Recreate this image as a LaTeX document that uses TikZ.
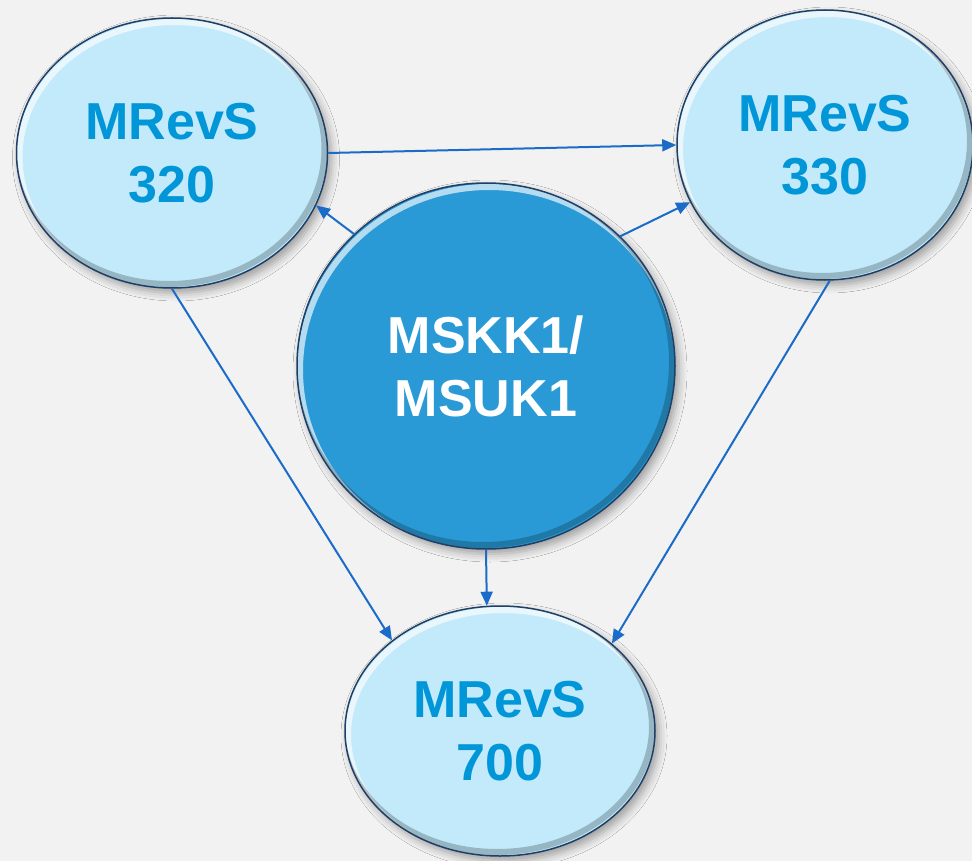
\documentclass[tikz,border=0pt]{standalone}
\usepackage{fontspec}
\setmainfont{Liberation Sans}
\usetikzlibrary{arrows.meta,shapes.geometric,shadows.blur}

\definecolor{bgcol}{HTML}{F2F2F2}
\definecolor{lightfill}{HTML}{C2EAFA}
\definecolor{corefill}{HTML}{2A9AD6}
\definecolor{rimcol}{HTML}{1F3F66}
\definecolor{labelblue}{HTML}{0096D8}
\definecolor{linkcol}{HTML}{1A6CC8}

\begin{document}
\begin{tikzpicture}[x=1pt,y=-1pt,
  bubble/.style n args={3}{
    ellipse, draw=rimcol, line width=1.5pt, fill=#3,
    minimum width=#1, minimum height=#2, inner sep=0pt,
    align=center, font=\fontsize{52}{63}\selectfont\bfseries,
    blur shadow={shadow xshift=4pt, shadow yshift=-5pt,
      shadow blur radius=8pt, shadow opacity=35},
    path picture={
      % light rim along the upper left edge
      \draw[white, opacity=.65, line width=6pt]
        ([xshift=3pt,yshift=-4pt]path picture bounding box.center)
        ellipse [x radius=#1/2, y radius=#2/2];
      % darker rim along the lower right edge
      \draw[black, opacity=.22, line width=6pt]
        ([xshift=-3pt,yshift=4pt]path picture bounding box.center)
        ellipse [x radius=#1/2, y radius=#2/2];
    }},
  outer/.style 2 args={bubble={#1}{#2}{lightfill}, text=labelblue},
  core/.style 2 args={bubble={#1}{#2}{corefill}, text=white},
  link/.style={draw=linkcol, line width=2pt,
    -{Triangle[length=14pt,width=12pt]}},
]
\useasboundingbox (0,0) rectangle (972,861);
\fill[bgcol] (0,0) rectangle (972,861);

\node[outer={311pt}{270pt}] (m320) at (172,153) {MRevS\\320};
\node[outer={296pt}{270pt}] (m330) at (825,145) {MRevS\\330};
\node[core={378pt}{366pt}]  (msk)  at (486,366) {MSKK1/\\MSUK1};
\node[outer={310pt}{250pt}] (m700) at (500,731) {MRevS\\700};

\draw[link] (m320.0)     -- (m330.180);
\draw[link] (msk.135.6)  -- (m320.340.3);
\draw[link] (msk.44.3)   -- (m330.203.6);
\draw[link] (m320.270)   -- (m700.140.5);
\draw[link] (msk.270)    -- (m700.96);
\draw[link] (m330.272)   -- (m700.38.4);
\end{tikzpicture}
\end{document}
